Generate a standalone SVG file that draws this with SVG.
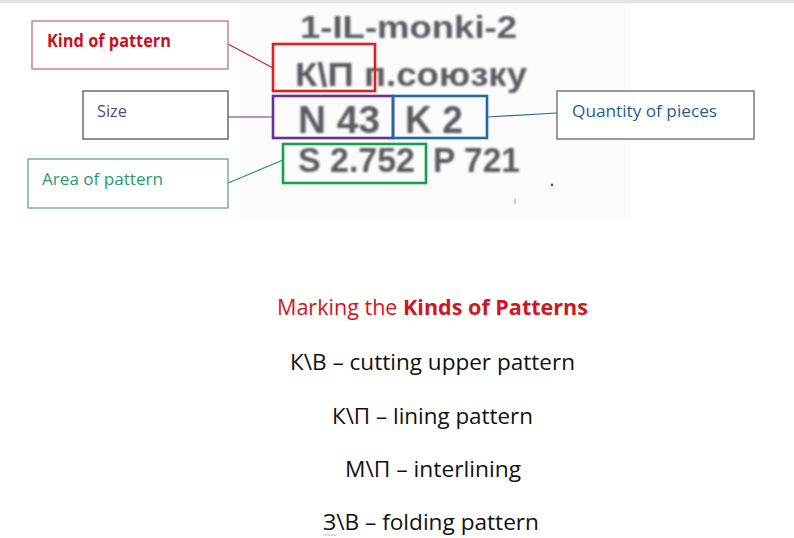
<svg xmlns="http://www.w3.org/2000/svg" width="794" height="538" viewBox="0 0 794 538">
<defs>
<filter id="blur" x="-5%" y="-20%" width="110%" height="140%"><feGaussianBlur stdDeviation="0.9"/></filter>
</defs>
<style>
.scan{font-family:"Liberation Sans",Arial,sans-serif;font-weight:bold;fill:#5a5c60;filter:url(#blur)}
.lbl{font-family:"Open Sans","Noto Sans",sans-serif;font-size:17px}
.body{font-family:"Open Sans","Noto Sans",sans-serif;font-size:22px;fill:#111}
.cbox{fill:#fff;stroke-width:1.3}
.mark{fill:none;stroke-width:2.6}
.conn line{stroke-width:1.2}
</style>
<rect x="0" y="0" width="794" height="538" fill="#fff"/>
<rect x="0" y="0" width="794" height="3" fill="#e4e4e4"/>
<rect x="240" y="3" width="390" height="217" fill="#fbfbfb"/>
<g id="scan">
<text class="scan" x="300" y="38" font-size="32" textLength="217" lengthAdjust="spacingAndGlyphs">1-IL-monki-2</text>
<text class="scan" x="295" y="86" font-size="33" textLength="232" lengthAdjust="spacingAndGlyphs">К\П п.союзку</text>
<text class="scan" x="298" y="133" font-size="38" textLength="82" lengthAdjust="spacingAndGlyphs">N 43</text>
<text class="scan" x="405" y="133" font-size="38" textLength="58" lengthAdjust="spacingAndGlyphs">K 2</text>
<text class="scan" x="298" y="172" font-size="35" textLength="117" lengthAdjust="spacingAndGlyphs">S 2.752</text>
<text class="scan" x="433" y="172" font-size="35" textLength="87" lengthAdjust="spacingAndGlyphs">P 721</text>
<circle cx="552" cy="185" r="1.3" fill="#555"/>
<rect x="514" y="199" width="2" height="5" fill="#ccc"/>
</g>
<g id="marks">
<rect class="mark" x="273" y="44" width="102" height="47" stroke="#e0201f"/>
<rect class="mark" x="273" y="96" width="120" height="42" stroke="#6a2f94"/>
<rect class="mark" x="393" y="96" width="94" height="42" stroke="#1f6aa5"/>
<rect class="mark" x="283" y="144" width="143" height="39" stroke="#15a04a"/>
</g>
<g class="conn" id="connectors">
<line x1="228" y1="44" x2="273" y2="68" stroke="#c0202a"/>
<line x1="228" y1="117" x2="273" y2="117" stroke="#6a2f94"/>
<line x1="487" y1="117" x2="557" y2="113" stroke="#3c6a8a"/>
<line x1="228" y1="183" x2="283" y2="160" stroke="#22956a"/>
</g>
<g id="kind">
<rect class="cbox" x="32" y="21" width="196" height="48" stroke="#c07080"/>
<text class="lbl" x="47" y="47" font-weight="bold" fill="#c8101e" textLength="124" lengthAdjust="spacingAndGlyphs">Kind of pattern</text>
</g>
<g id="size">
<rect class="cbox" x="83" y="91" width="145" height="48" stroke="#555"/>
<text class="lbl" x="97" y="117" fill="#5b4b7b" textLength="30" lengthAdjust="spacingAndGlyphs">Size</text>
</g>
<g id="quantity">
<rect class="cbox" x="557" y="91" width="197" height="48" stroke="#666"/>
<text class="lbl" x="572" y="117" fill="#1f5f8f" textLength="145" lengthAdjust="spacingAndGlyphs">Quantity of pieces</text>
</g>
<g id="area">
<rect class="cbox" x="28" y="159" width="200" height="49" stroke="#60a890"/>
<text class="lbl" x="42" y="185" fill="#2a9a6a" textLength="121" lengthAdjust="spacingAndGlyphs">Area of pattern</text>
</g>
<g id="legend">
<text x="277" y="315" font-family="'Open Sans','Noto Sans',sans-serif" font-size="22" fill="#d0161e" textLength="311" lengthAdjust="spacingAndGlyphs">Marking the <tspan font-weight="bold">Kinds of Patterns</tspan></text>
<text class="body" x="290" y="370" textLength="285" lengthAdjust="spacingAndGlyphs">К\В – cutting upper pattern</text>
<text class="body" x="332" y="424" textLength="201" lengthAdjust="spacingAndGlyphs">К\П – lining pattern</text>
<text class="body" x="345" y="477" textLength="176" lengthAdjust="spacingAndGlyphs">М\П – interlining</text>
<text class="body" x="323" y="530" textLength="216" lengthAdjust="spacingAndGlyphs">З\В – folding pattern</text>
<path d="M323 535.5 l1.5 -1 l1.5 1 l1.5 -1 l1.5 1 l1.5 -1 l1.5 1 l1.5 -1 l1.5 1 l1.5 -1" fill="none" stroke="#8ab89a" stroke-width="0.8"/>
</g>
</svg>
